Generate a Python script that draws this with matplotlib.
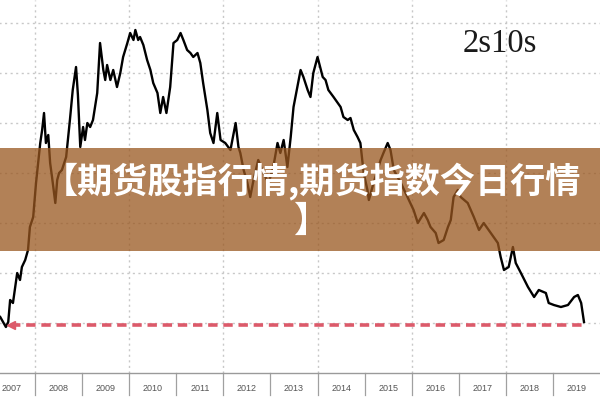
import matplotlib
matplotlib.use("Agg")
import matplotlib.pyplot as plt
from matplotlib.patches import Rectangle
import matplotlib.transforms as mtransforms

# ---- data ----
years = [2007.26, 2007.32, 2007.38, 2007.43, 2007.47, 2007.53, 2007.62, 2007.68, 2007.72, 2007.79,
         2007.85, 2007.89, 2007.96, 2008.02, 2008.11, 2008.15, 2008.19, 2008.23, 2008.28, 2008.32,
         2008.36, 2008.43, 2008.47, 2008.51, 2008.57, 2008.66, 2008.74, 2008.80, 2008.87, 2008.91,
         2008.96, 2009.02, 2009.06, 2009.11, 2009.17, 2009.23, 2009.32, 2009.38, 2009.45, 2009.49,
         2009.53, 2009.60, 2009.66, 2009.74, 2009.81, 2009.87, 2009.96, 2010.02, 2010.09, 2010.13,
         2010.19, 2010.23, 2010.30, 2010.38, 2010.45, 2010.51, 2010.60, 2010.66, 2010.72, 2010.79,
         2010.87, 2010.94, 2011.02, 2011.09, 2011.15, 2011.23, 2011.30, 2011.36, 2011.45, 2011.51,
         2011.57, 2011.66, 2011.72, 2011.79, 2011.87, 2011.94, 2012.04, 2012.15, 2012.26, 2012.32,
         2012.36, 2012.43, 2012.51, 2012.57, 2012.64, 2012.74, 2012.85, 2012.96, 2013.06, 2013.15,
         2013.21, 2013.28, 2013.36, 2013.43, 2013.49, 2013.57, 2013.64, 2013.70, 2013.79, 2013.85,
         2013.91, 2014.00, 2014.11, 2014.17, 2014.23, 2014.34, 2014.43, 2014.49, 2014.55, 2014.64,
         2014.70, 2014.77, 2014.85, 2014.91, 2014.98, 2015.06, 2015.09, 2015.19, 2015.34, 2015.40,
         2015.49, 2015.55, 2015.62, 2015.77, 2015.91, 2016.04, 2016.13, 2016.26, 2016.34, 2016.40,
         2016.51, 2016.57, 2016.68, 2016.77, 2016.83, 2016.89, 2016.98, 2017.04, 2017.19, 2017.32,
         2017.43, 2017.53, 2017.68, 2017.83, 2017.89, 2017.96, 2018.06, 2018.15, 2018.21, 2018.32,
         2018.47, 2018.60, 2018.70, 2018.85, 2018.91, 2019.02, 2019.17, 2019.32, 2019.45, 2019.53,
         2019.60, 2019.66]
spread_bp = [6, 1, -4, 1, 23, 20, 50, 43, 56, 63,
             73, 96, 106, 140, 180, 193, 210, 180, 188, 160,
             146, 120, 143, 150, 153, 166, 203, 233, 256, 228,
             176, 196, 183, 200, 196, 203, 230, 280, 253, 243,
             258, 243, 253, 236, 250, 266, 280, 290, 283, 293,
             283, 286, 278, 263, 253, 240, 230, 210, 226, 210,
             236, 280, 283, 290, 283, 273, 270, 266, 270, 260,
             240, 213, 190, 180, 210, 183, 180, 173, 200, 176,
             170, 153, 140, 126, 143, 163, 150, 140, 156, 180,
             170, 183, 156, 186, 216, 236, 253, 246, 233, 226,
             250, 266, 246, 243, 233, 226, 220, 216, 206, 203,
             205, 193, 186, 180, 150, 133, 123, 140, 163, 170,
             180, 173, 153, 140, 126, 113, 100, 110, 103, 96,
             90, 80, 83, 96, 103, 126, 133, 126, 120, 106,
             93, 100, 90, 80, 66, 53, 56, 76, 60, 50,
             36, 26, 33, 30, 20, 18, 16, 18, 26, 28,
             20, 1]

year_labels = [str(y) for y in range(2007, 2020)]
grid_levels = [0, 50, 100, 150, 200, 250, 300]
grid_years = [2008, 2010, 2012, 2014, 2016, 2018]
arrow_level = -2
arrow_from = 2019.66
arrow_to = 2007.49
series_label = "2s10s"
title_text = "【期货股指行情,期货指数今日行情\n】"

# ---- figure ----
fig = plt.figure(figsize=(6, 4), dpi=100)
fig.patch.set_facecolor("white")
ax = fig.add_axes([-0.02, 0.0675, 1.02, 0.9325])
ax.set_xlim(2007, 2020)
ax.set_ylim(-50, 323)
for s in ["top", "right", "left"]:
    ax.spines[s].set_visible(False)
ax.spines["bottom"].set_color("#9a9a9a")
ax.spines["bottom"].set_linewidth(1.0)
ax.set_xticks([])
ax.set_yticks([])

# grid
for g in grid_levels:
    ax.axhline(g, color="#c8c8c8", lw=1.0, ls=(0, (1.5, 2.5)), zorder=1)
for gy in grid_years:
    ax.axvline(gy, color="#c8c8c8", lw=1.0, ls=(0, (1.5, 2.5)), zorder=1)

# year separators and labels below axis
trans = mtransforms.blended_transform_factory(ax.transData, ax.transAxes)
for y in range(2008, 2020):
    ax.plot([y, y], [0, -0.059], transform=trans, color="#a0a0a0", lw=0.9,
            clip_on=False, zorder=2)
for i, lab in enumerate(year_labels):
    ax.text(2007 + i + 0.5, -0.0415, lab, transform=trans, ha="center", va="center",
            fontsize=6.5, color="#555555", family="Liberation Sans")

# series
ax.plot(years, spread_bp, color="black", lw=1.7, zorder=3)

# red dashed arrow line
ax.plot([arrow_to, arrow_from], [arrow_level, arrow_level], color="#dc5a6a",
        lw=2.6, ls=(0, (2.6, 1.6)), zorder=4, solid_capstyle="butt")
ax.plot([arrow_to], [arrow_level], marker="<", color="#dc5a6a", ms=6, zorder=4)

# label
ax.text(0.833, 0.89, series_label, transform=fig.transFigure, ha="center", va="center",
        fontsize=23.5, family="Liberation Serif", color="#1a1a1a")

# banner
fig.patches.append(Rectangle((0, 0.3725), 1, 0.2575, transform=fig.transFigure,
                             facecolor=(0.60, 0.34, 0.12), alpha=0.75,
                             edgecolor="none", zorder=10))
fig.text(0.52, 0.4975, title_text, ha="center", va="center", fontsize=25.3,
         fontweight="bold", color="white", linespacing=1.12, zorder=11,
         family=["Noto Sans CJK SC", "DejaVu Sans"])

fig.savefig("out.png", dpi=100)
